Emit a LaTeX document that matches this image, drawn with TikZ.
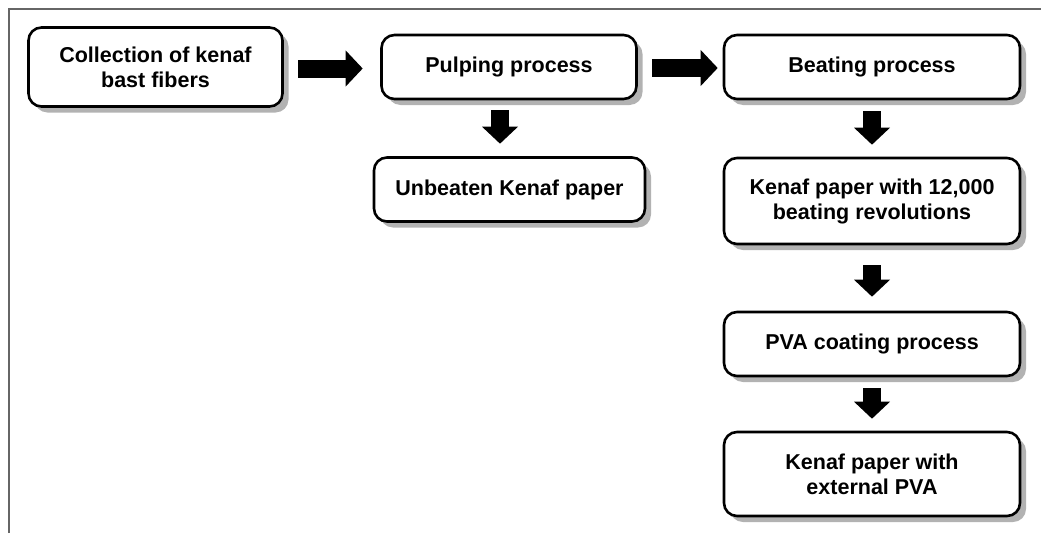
\documentclass[tikz,border=0pt]{standalone}
\usepackage{fontspec}
\setmainfont{Liberation Sans}
\usetikzlibrary{arrows.meta,shadows}
\tikzset{
  procbox/.style={draw=black, line width=2.6pt, fill=white, rounded corners=13pt,
    align=center, inner sep=0pt,
    font=\fontsize{21.5}{25}\selectfont\bfseries,
    drop shadow={opacity=1, fill=black!30, shadow xshift=6pt, shadow yshift=-6pt}},
  blockarrow/.style={line width=18pt, black, -{Triangle[width=35pt,length=17pt]}},
  framerule/.style={draw=black!60, line width=2pt}
}
\begin{document}
\begin{tikzpicture}[x=1pt,y=-1pt]
\useasboundingbox (0,0) rectangle (1041,533);
\coordinate (fa) at (8.5,533);
\coordinate (fb) at (8.5,9);
\coordinate (fc) at (1041,9);
\draw[framerule] (fa) -- (fb) -- (fc);

\node[procbox, minimum width=254pt, minimum height=79pt] (b1) at (155.5,67) {Collection of kenaf\\bast fibers};
\node[procbox, minimum width=255pt, minimum height=64pt] (b2) at (509,67) {Pulping process};
\node[procbox, minimum width=271pt, minimum height=64pt] (b3) at (509.5,189.5) {Unbeaten Kenaf paper};
\node[procbox, minimum width=296pt, minimum height=64pt] (b4) at (872,67) {Beating process};
\node[procbox, minimum width=296pt, minimum height=86pt] (b5) at (872,201) {Kenaf paper with 12,000\\beating revolutions};
\node[procbox, minimum width=296pt, minimum height=64pt] (b6) at (872,344) {PVA coating process};
\node[procbox, minimum width=296pt, minimum height=84pt] (b7) at (872,474) {Kenaf paper with\\external PVA};

\draw[blockarrow, shorten <=14.5pt, shorten >=17.5pt] ([yshift=-1.5pt]b1.east) -- ([yshift=-1.5pt]b1.east -| b2.west);
\draw[blockarrow, shorten <=14.5pt, shorten >=5pt] ([yshift=-1pt]b2.east) -- ([yshift=-1pt]b2.east -| b4.west);
\draw[blockarrow, shorten <=10pt, shorten >=12.5pt] ([xshift=-9pt]b2.south) -- ([xshift=-9pt]b2.south |- b3.north);
\draw[blockarrow, shorten <=11pt, shorten >=12pt] (b4.south) -- (b5.north);
\draw[blockarrow, shorten <=20pt, shorten >=14pt] (b5.south) -- (b6.north);
\draw[blockarrow, shorten <=11pt, shorten >=12pt] (b6.south) -- (b7.north);
\end{tikzpicture}
\end{document}
